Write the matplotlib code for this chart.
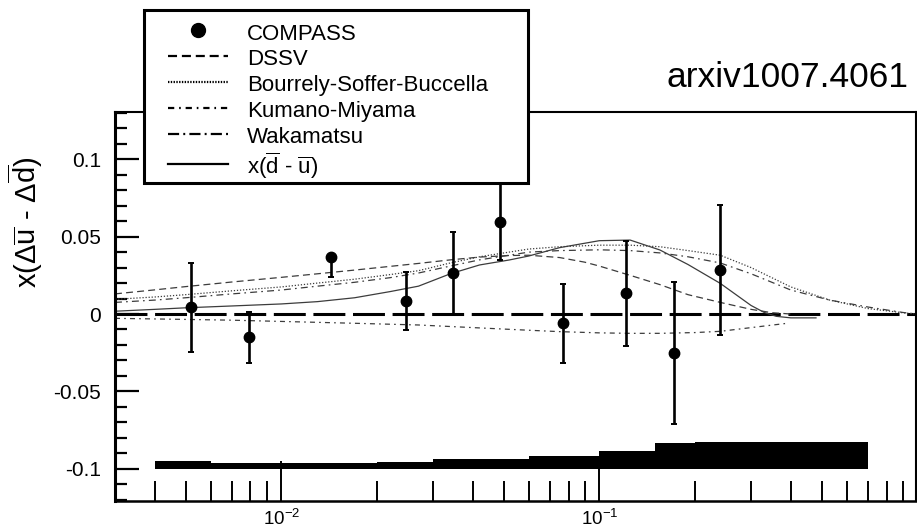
import matplotlib
matplotlib.use("Agg")
import matplotlib.pyplot as plt
from matplotlib.lines import Line2D
from matplotlib.patches import Rectangle
from matplotlib.ticker import MultipleLocator, LogLocator, NullFormatter, FuncFormatter

plt.rcParams.update({
    "font.family": ["Liberation Sans", "DejaVu Sans"],
    "mathtext.fontset": "custom",
    "mathtext.rm": "Liberation Sans",
    "mathtext.it": "Liberation Sans:italic",
    "mathtext.bf": "Liberation Sans:bold",
    "axes.unicode_minus": False,
    "lines.scale_dashes": False,
})

# COMPASS points: x, value, statistical errors (lower, upper)
x_data = [0.0052, 0.0079, 0.0143, 0.0247, 0.0347, 0.0488, 0.0767, 0.121, 0.172, 0.240]
y_data = [0.0043, -0.0151, 0.0367, 0.0084, 0.0267, 0.0597, -0.0060, 0.0134, -0.0250, 0.0284]
err_lo = [0.0286, 0.0165, 0.0130, 0.0190, 0.0264, 0.0245, 0.0255, 0.0340, 0.0460, 0.0420]
err_hi = [0.0286, 0.0165, 0.0000, 0.0190, 0.0264, 0.0245, 0.0255, 0.0340, 0.0460, 0.0420]

# systematic uncertainty band, drawn upward from -0.1
syst_edges = [0.004, 0.006, 0.02, 0.03, 0.06, 0.1, 0.15, 0.2, 0.7]
syst_size = [0.0052, 0.0036, 0.0045, 0.0063, 0.0084, 0.0116, 0.0168, 0.0175]
syst_base = -0.1

# model curves
curve_x = [0.003, 0.004, 0.005, 0.007, 0.01, 0.013, 0.017, 0.022, 0.027, 0.034, 0.042,
           0.052, 0.06, 0.075, 0.1, 0.125, 0.155, 0.19, 0.24, 0.3, 0.4, 0.53, 0.7, 0.9, 0.99]
bsb_y = [0.0095, 0.011, 0.0125, 0.015, 0.0175, 0.020, 0.0225, 0.0255, 0.028, 0.033, 0.037,
         0.040, 0.042, 0.0435, 0.0445, 0.0445, 0.0435, 0.041, 0.038, 0.030, 0.0175, 0.009,
         0.0035, 0.0008, 0.0]
waka_y = [0.0075, 0.009, 0.0105, 0.013, 0.0155, 0.018, 0.0205, 0.0235, 0.0265, 0.031, 0.035,
          0.038, 0.040, 0.041, 0.0415, 0.041, 0.0395, 0.037, 0.033, 0.026, 0.0155, 0.009,
          0.0045, 0.001, 0.0]

dssv_x = [0.003, 0.004, 0.005, 0.007, 0.01, 0.013, 0.017, 0.022, 0.027, 0.034, 0.042, 0.052,
          0.06, 0.075, 0.09, 0.1, 0.125, 0.155, 0.19, 0.24, 0.3, 0.35, 0.4]
dssv_y = [0.013, 0.0156, 0.0177, 0.0207, 0.0237, 0.026, 0.0284, 0.0308, 0.0327, 0.035, 0.0368,
          0.0378, 0.038, 0.0365, 0.0335, 0.031, 0.025, 0.019, 0.0125, 0.0075, 0.003, 0.0008, 0.0]

km_x = [0.003, 0.005, 0.007, 0.01, 0.017, 0.027, 0.042, 0.06, 0.075, 0.1, 0.125, 0.155, 0.2,
        0.24, 0.3, 0.39]
km_y = [-0.0028, -0.0035, -0.004, -0.0048, -0.006, -0.0071, -0.009, -0.0105, -0.0114, -0.0122,
        -0.0125, -0.0125, -0.012, -0.0112, -0.0088, -0.006]

dbar_x = [0.003, 0.004, 0.005, 0.007, 0.01, 0.013, 0.017, 0.022, 0.027, 0.034, 0.042, 0.052,
          0.06, 0.075, 0.1, 0.125, 0.155, 0.19, 0.24, 0.3, 0.33, 0.36, 0.4, 0.48]
dbar_y = [0.0018, 0.003, 0.004, 0.0052, 0.0065, 0.008, 0.0105, 0.0145, 0.018, 0.026, 0.0317,
          0.0349, 0.0375, 0.0429, 0.0474, 0.0478, 0.0414, 0.032, 0.0198, 0.0055, 0.001, -0.0015,
          -0.0025, -0.0025]

y_ticks = [-0.1, -0.05, 0, 0.05, 0.1]

W, H = 917, 532
fig = plt.figure(figsize=(W / 100, H / 100), dpi=100)
ax = fig.add_axes([115 / W, 31 / H, 801 / W, 389 / H])
ax.set_xscale("log")
ax.set_xlim(0.003, 0.99)
ax.set_ylim(-0.1209, 0.1306)

# zero reference
ax.axhline(0, color="black", lw=2.2, ls=(0, (23, 5.5)), zorder=1)

curve_col = "#3c3c3c"
ax.plot(dssv_x, dssv_y, color=curve_col, lw=0.9, ls=(0, (5, 3)), zorder=2)
ax.plot(curve_x, bsb_y, color=curve_col, lw=0.9, ls=(0, (0.9, 1.3)), zorder=2)
ax.plot(km_x, km_y, color=curve_col, lw=0.9, ls=(0, (3.6, 3, 1.2, 3)), zorder=2)
ax.plot(curve_x, waka_y, color=curve_col, lw=0.9, ls=(0, (5, 3, 1.2, 3)), zorder=2)
ax.plot(dbar_x, dbar_y, color=curve_col, lw=0.9, ls="-", zorder=2)

ax.stairs([syst_base + s for s in syst_size], syst_edges, baseline=syst_base,
          fill=True, color="black", zorder=3)

ax.errorbar(x_data, y_data, yerr=[err_lo, err_hi], fmt="o", color="black", ms=7.5,
            elinewidth=1.9, capsize=2.2, capthick=1.4, zorder=4)

# axes styling
for side, lw in (("left", 2.2), ("bottom", 1.8), ("right", 1.5), ("top", 1.5)):
    ax.spines[side].set_linewidth(lw)
ax.yaxis.set_major_locator(MultipleLocator(0.05))
ax.yaxis.set_minor_locator(MultipleLocator(0.01))
ax.set_yticks(y_ticks)
ax.yaxis.set_major_formatter(FuncFormatter(lambda v, p: "%g" % round(v, 3)))
ax.xaxis.set_major_locator(LogLocator(base=10))
ax.xaxis.set_minor_locator(LogLocator(base=10, subs=range(2, 10), numticks=20))
ax.xaxis.set_minor_formatter(NullFormatter())
ax.tick_params(which="both", direction="in", top=False, right=False)
ax.tick_params(axis="y", which="major", length=17, width=1.6, pad=10, labelsize=15)
ax.tick_params(axis="y", which="minor", length=8.6, width=1.6)
ax.tick_params(axis="x", which="major", length=29, width=1.4, pad=6, labelsize=13.5)
ax.tick_params(axis="x", which="minor", length=14.4, width=1.4)

ax.set_ylabel(r"x($\Delta\overline{\mathrm{u}}$ - $\Delta\overline{\mathrm{d}}$)", fontsize=21)
ax.yaxis.set_label_coords(-0.087, 0.717)

fig.text(908 / W, 1 - 87 / H, "arxiv1007.4061", ha="right", va="baseline", fontsize=25.5)

# legend box
fig.add_artist(Rectangle((144 / W, 1 - 183 / H), 384 / W, 173 / H, transform=fig.transFigure,
                         facecolor="white", edgecolor="black", lw=2.2, zorder=3))
handles = [
    Line2D([], [], ls="none", marker="o", ms=10, color="black"),
    Line2D([], [], color="black", lw=1.6, ls=(0, (6.5, 3.5))),
    Line2D([], [], color="black", lw=1.6, ls=(0, (1, 1))),
    Line2D([], [], color="black", lw=1.6, ls=(0, (4.5, 3.5, 1.2, 3.5))),
    Line2D([], [], color="black", lw=1.6, ls=(0, (8, 3, 1.4, 3))),
    Line2D([], [], color="black", lw=1.6, ls="-"),
]
labels = ["COMPASS", "DSSV", "Bourrely-Soffer-Buccella", "Kumano-Miyama", "Wakamatsu",
          r"x($\overline{\mathrm{d}}$ - $\overline{\mathrm{u}}$)"]
leg = fig.legend(handles, labels, loc="upper left", bbox_to_anchor=(168 / W, 1 - 21 / H),
                 bbox_transform=fig.transFigure, frameon=False, fontsize=16,
                 handlelength=2.7, handletextpad=0.86, labelspacing=0.1,
                 handleheight=1.16, borderpad=0, borderaxespad=0)
leg.set_zorder(5)

fig.savefig("out.png", dpi=100)
